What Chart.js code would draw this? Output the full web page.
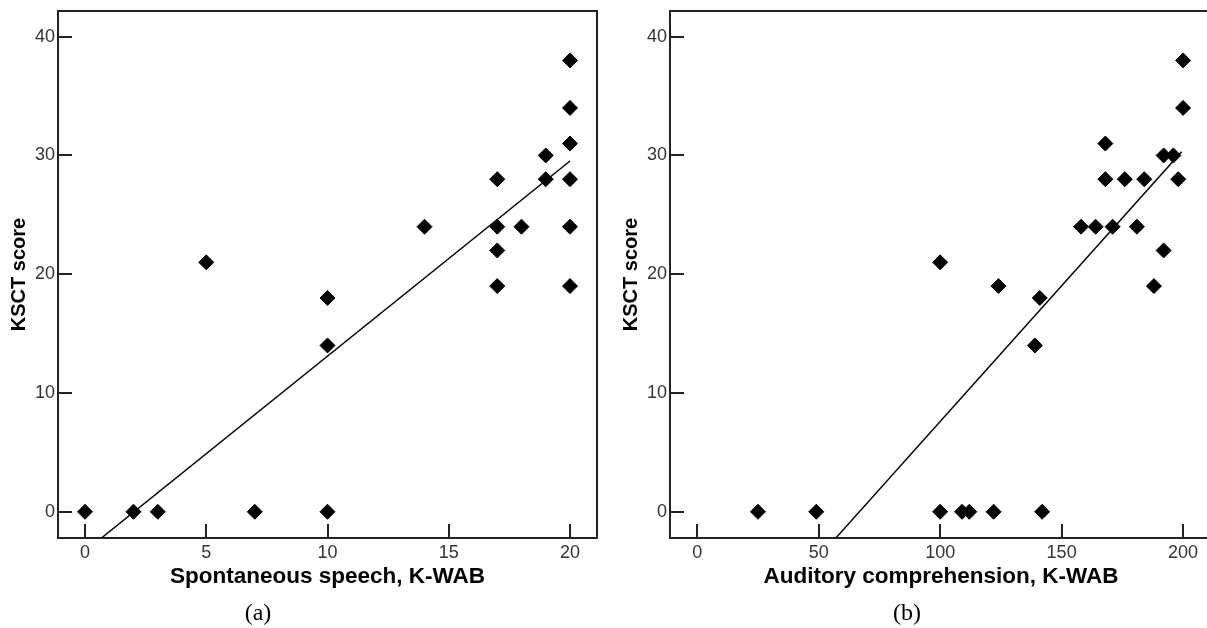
<!DOCTYPE html>
<html>
<head>
<meta charset="utf-8">
<script src="https://cdn.jsdelivr.net/npm/chart.js@4/dist/chart.umd.min.js"></script>
<style>
  html, body { margin:0; padding:0; background:#fff; width:1207px; height:628px; overflow:hidden; position:relative; }
  .wrap { position:absolute; top:0; height:628px; }
  .cap { position:absolute; font-family:"Liberation Serif","Times New Roman",serif; font-size:24px; color:#000; transform:translate(-50%,-50%); white-space:nowrap; }
</style>
</head>
<body>
<div class="wrap" id="wa" style="left:0px;width:607px;"><canvas id="ca"></canvas></div>
<div class="wrap" id="wb" style="left:612px;width:610px;"><canvas id="cb"></canvas></div>
<div class="cap" style="left:258px;top:612px;">(a)</div>
<div class="cap" style="left:907px;top:612px;">(b)</div>
<script>
// ---- data ----
const speechX = [0, 2, 3, 7, 10, 5, 10, 10, 14, 17, 17, 17, 17, 18, 19, 19, 20, 20, 20, 20, 20, 20];
const speechY = [0, 0, 0, 0, 0, 21, 18, 14, 24, 28, 24, 22, 19, 24, 30, 28, 38, 34, 31, 28, 24, 19];
const fitAX = [0.69, 20];
const fitAY = [-2.19, 29.53];

const audX = [25, 49, 100, 109, 112, 122, 142, 100, 124, 141, 139, 158, 164, 171, 181, 168, 168, 176, 184, 198, 192, 196, 192, 188, 200, 200];
const audY = [0, 0, 0, 0, 0, 0, 0, 21, 19, 18, 14, 24, 24, 24, 24, 31, 28, 28, 28, 28, 30, 30, 22, 19, 38, 34];
const fitBX = [57.1, 199.4];
const fitBY = [-2.2, 30.3];

const yTicks = [0, 10, 20, 30, 40];
const xTicksA = [0, 5, 10, 15, 20];
const xTicksB = [0, 50, 100, 150, 200];

const titleA = 'Spontaneous speech, K-WAB';
const titleB = 'Auditory comprehension, K-WAB';
const yTitle = 'KSCT score';

// ---- helpers ----
const pairs = (xs, ys) => xs.map((x, i) => ({x: x, y: ys[i]}));

const frameTicks = {
  id: 'frameTicks',
  beforeDatasetsDraw(chart) {
    const {ctx, chartArea: a, scales} = chart;
    ctx.save();
    ctx.strokeStyle = '#222';
    ctx.lineWidth = 2;
    ctx.beginPath();
    scales.x.ticks.forEach(t => {
      const px = Math.round(scales.x.getPixelForValue(t.value));
      ctx.moveTo(px, a.bottom);
      ctx.lineTo(px, a.bottom - 14);
    });
    scales.y.ticks.forEach(t => {
      const py = Math.round(scales.y.getPixelForValue(t.value));
      ctx.moveTo(a.left, py);
      ctx.lineTo(a.left + 14, py);
    });
    ctx.stroke();
    ctx.strokeRect(a.left, a.top, a.right - a.left, a.bottom - a.top);
    ctx.restore();
  }
};

function makeChart(id, xs, ys, fx, fy, xTicks, xmin, xmax, xTitle) {
  return new Chart(document.getElementById(id), {
    type: 'scatter',
    data: {
      datasets: [
        {
          type: 'line',
          data: pairs(fx, fy),
          borderColor: '#000',
          borderWidth: 1.5,
          pointRadius: 0,
          fill: false,
          tension: 0
        },
        {
          data: pairs(xs, ys),
          pointStyle: 'rectRot',
          pointRadius: 7.5,
          pointBackgroundColor: '#000',
          pointBorderColor: '#000',
          pointBorderWidth: 1
        }
      ]
    },
    options: {
      responsive: true,
      maintainAspectRatio: false,
      animation: false,
      events: [],
      layout: { padding: { left: 0, right: 10, top: 11, bottom: 0 } },
      plugins: { legend: { display: false }, tooltip: { enabled: false } },
      scales: {
        x: {
          type: 'linear',
          min: xmin, max: xmax,
          grid: { display: false, drawTicks: false },
          border: { display: false },
          afterBuildTicks: s => { s.ticks = xTicks.map(v => ({value: v})); },
          ticks: {
            padding: 4,
            color: '#333',
            font: { family: 'Liberation Sans', size: 18 },
            maxRotation: 0
          },
          title: {
            display: true,
            text: xTitle,
            color: '#000',
            font: { family: 'Liberation Sans', size: 22.5, weight: 'bold' },
            padding: { top: 0, bottom: 38 }
          },
          afterFit: s => { s.height = 90; s.paddingLeft = 0; s.paddingRight = 0; }
        },
        y: {
          type: 'linear',
          min: -2.21, max: 42.16,
          grid: { display: false, drawTicks: false },
          border: { display: false },
          afterBuildTicks: s => { s.ticks = yTicks.map(v => ({value: v})); },
          ticks: {
            padding: 3,
            color: '#333',
            font: { family: 'Liberation Sans', size: 18 }
          },
          title: {
            display: true,
            text: yTitle,
            color: '#000',
            font: { family: 'Liberation Sans', size: 20, weight: 'bold' },
            padding: { top: 7, bottom: 0 }
          },
          afterFit: s => { s.width = 58; s.paddingTop = 0; s.paddingBottom = 0; }
        }
      }
    },
    plugins: [frameTicks]
  });
}

makeChart('ca', speechX, speechY, fitAX, fitAY, xTicksA, -1.113, 21.113, titleA);
makeChart('cb', audX, audY, fitBX, fitBY, xTicksB, -11.2, 211.9, titleB);
</script>
</body>
</html>
